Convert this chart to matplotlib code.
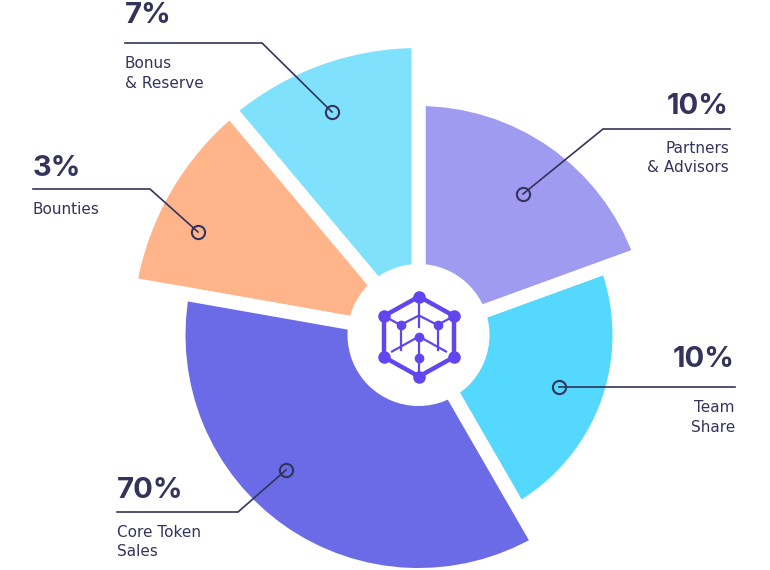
import matplotlib.pyplot as plt
from matplotlib.patches import Wedge, Circle

# slices, counter-clockwise starting at -60 deg (screen angles)
labels = ["Team\nShare", "Partners\n& Advisors", "Bonus\n& Reserve", "Bounties", "Core Token\nSales"]
percents = [10, 10, 7, 3, 70]
spans = [80, 70, 40, 40, 130]          # degrees covered by each slice
radii = [194, 229, 287, 286, 233]      # outer radius in px
colors = ["#55D8FE", "#9E9BF0", "#80E1FD", "#FFB48A", "#6B6BE8"]
start_angle = -60

# label layout: dot, elbow, line end, text x, alignment, % baseline, label baseline
layout = [
    ((559, 387), (559, 387), 735, 735, "right", 367, 412),
    ((523, 194), (603, 129), 730, 729, "right", 114, 153),
    ((332, 112), (262, 43), 125, 125, "left", 23, 68),
    ((198, 232), (150, 189), 33, 33, "left", 176, 214),
    ((286, 470), (238, 512), 117, 117, "left", 498, 537),
]

W, H = 770, 570
cx, cy = 418.5, 335
gap_px = 14
ink = "#34335B"
icon_col = "#5F46EE"
plt.rcParams['font.family'] = ['Inter', 'DejaVu Sans']

fig = plt.figure(figsize=(W / 100, H / 100), dpi=100)
ax = fig.add_axes([0, 0, 1, 1])
ax.set_xlim(0, W)
ax.set_ylim(H, 0)
ax.axis('off')

lw = gap_px * 72 / 100
a = start_angle
for span, r, c in zip(spans, radii, colors):
    # y axis is inverted, so negate the angles
    w = Wedge((cx, cy), r + gap_px / 2, -(a + span), -a, width=r - 40,
              facecolor=c, edgecolor="white", linewidth=lw, joinstyle="miter")
    ax.add_patch(w)
    a += span

ax.add_patch(Circle((cx, cy), 71, facecolor="white", edgecolor="none", zorder=3))

# leader lines and labels
for lab, pct, (dot, elbow, xend, tx, ha, pb, lb) in zip(labels, percents, layout):
    ax.plot([dot[0], elbow[0], xend], [dot[1], elbow[1], elbow[1]],
            color=ink, lw=1.2, zorder=4, solid_joinstyle="miter")
    ax.plot(dot[0], dot[1], marker="o", ms=9.5, mfc="none", mec=ink, mew=1.5, zorder=5)
    ax.text(tx, pb, f"{pct}%", ha=ha, va="baseline", fontsize=21,
            fontweight="bold", color=ink)
    for i, line in enumerate(lab.split("\n")):
        ax.text(tx, lb + i * 19.5, line, ha=ha, va="baseline", fontsize=11,
                color=ink, family="DejaVu Sans")

# center icon
ix, iy = 419, 336.5
hexv = [(0, -40), (35, -20.5), (35, 20.5), (0, 40), (-35, 20.5), (-35, -20.5), (0, -40)]
ax.plot([ix + p[0] for p in hexv], [iy + p[1] for p in hexv], color=icon_col,
        lw=3.2, zorder=6, solid_joinstyle="round")
segs = [
    ((0, -40), (0, -10)),
    ((0, -21), (-18.5, -11.5)), ((0, -21), (18.5, -11.5)),
    ((-35, -20.5), (-18.5, -11.5)), ((35, -20.5), (18.5, -11.5)),
    ((-18.5, -11.5), (-18.5, 13)), ((18.5, -11.5), (18.5, 13)),
    ((0, 0), (-27, 15)), ((0, 0), (27, 15)),
    ((0, 0), (0, 21)), ((0, 21), (0, 40)),
]
for p, q in segs:
    ax.plot([ix + p[0], ix + q[0]], [iy + p[1], iy + q[1]], color=icon_col,
            lw=1.6, zorder=6)
ax.plot([ix + p[0] for p in hexv[:-1]], [iy + p[1] for p in hexv[:-1]], "o",
        color=icon_col, ms=8, zorder=7)
inner = [(-18.5, -11.5), (18.5, -11.5), (0, 0), (0, 21)]
ax.plot([ix + p[0] for p in inner], [iy + p[1] for p in inner], "o",
        color=icon_col, ms=6, zorder=7)

fig.savefig("out.png", dpi=100)
